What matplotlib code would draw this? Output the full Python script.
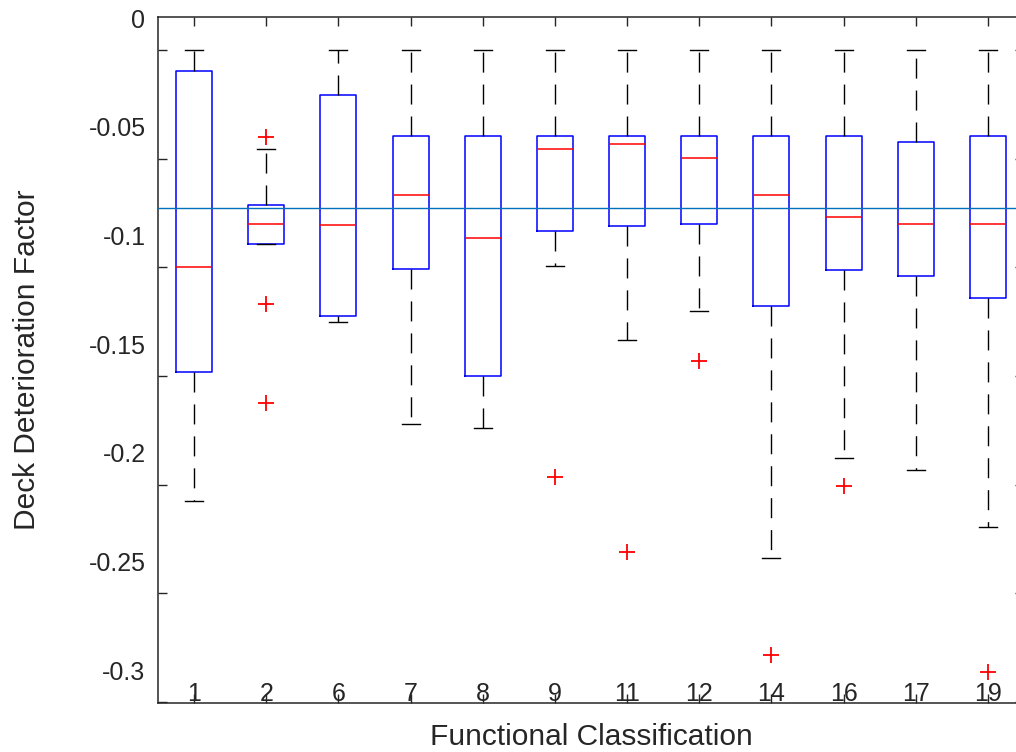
import matplotlib
matplotlib.use("Agg")
import matplotlib.pyplot as plt
import matplotlib.transforms as mtransforms
import numpy as np

# Functional classification groups and their deck deterioration factor summaries
classes = ['1', '2', '6', '7', '8', '9', '11', '12', '14', '16', '17', '19']
upper_whisker = [0.0, -0.0454, 0.0, 0.0, 0.0, 0.0, 0.0, 0.0, 0.0, 0.0, 0.0, 0.0]
q3 = [-0.0097, -0.0714, -0.0207, -0.0397, -0.0397, -0.0397, -0.0397, -0.0397,
      -0.0397, -0.0397, -0.0425, -0.0397]
median = [-0.1000, -0.0800, -0.0805, -0.0666, -0.0866, -0.0454, -0.0432, -0.0498,
          -0.0666, -0.0768, -0.0800, -0.0800]
q1 = [-0.1481, -0.0891, -0.1225, -0.1009, -0.1500, -0.0831, -0.0810, -0.0799,
      -0.1176, -0.1012, -0.1041, -0.1139]
lower_whisker = [-0.2075, -0.0891, -0.1250, -0.1722, -0.1739, -0.0992, -0.1333, -0.1201,
                 -0.2335, -0.1877, -0.1932, -0.2196]
outliers = [[], [-0.0399, -0.1168, -0.1625], [], [], [], [-0.1963], [-0.2310],
            [-0.1431], [-0.2783], [-0.2004], [], [-0.2862]]
reference_level = -0.0725

y_ticks = [0, -0.05, -0.1, -0.15, -0.2, -0.25, -0.3]
y_tick_labels = ['0', '-0.05', '-0.1', '-0.15', '-0.2', '-0.25', '-0.3']

axis_color = '#262626'
plt.rcParams['font.family'] = ['Liberation Sans', 'DejaVu Sans']

W, H, DPI = 1016, 752, 100
fig = plt.figure(figsize=(W / DPI, H / DPI), dpi=DPI)
left, right, top, bottom = 158, 1024, 17, 703
ax = fig.add_axes([left / W, (H - bottom) / H, (right - left) / W, (bottom - top) / H])

stats = []
for i, name in enumerate(classes):
    stats.append(dict(med=median[i], q1=q1[i], q3=q3[i],
                      whislo=lower_whisker[i], whishi=upper_whisker[i],
                      fliers=np.array(outliers[i]), label=name))

positions = np.arange(1, len(classes) + 1)
ax.bxp(stats, positions=positions, widths=0.5, capwidths=0.25, manage_ticks=False,
       boxprops=dict(color='#0000FF', linewidth=1.1),
       medianprops=dict(color='#FF0000', linewidth=1.1),
       whiskerprops=dict(color='black', linewidth=1.0, linestyle=(0, (14.4, 8.6))),
       capprops=dict(color='black', linewidth=1.0),
       flierprops=dict(marker='+', markeredgecolor='#FF0000', markersize=11,
                       markeredgewidth=1.3, linestyle='none'))

ax.axhline(reference_level, color='#0072BD', linewidth=1.0, zorder=3)

ax.set_xlim(0.5, 12.5)
ax.set_ylim(-0.3004, 0.0152)

ax.set_xticks(positions)
ax.set_xticklabels(classes)
ax.set_yticks(y_ticks)
ax.set_yticklabels(y_tick_labels)

ax.tick_params(axis='both', direction='in', length=6.5, width=1.0, color=axis_color,
               labelcolor=axis_color, labelsize=18, top=True, right=True)
ax.tick_params(axis='y', pad=9)
for sp in ax.spines.values():
    sp.set_color(axis_color)
    sp.set_linewidth(1.1)

# tick labels sit raised relative to their tick marks
y_shift = mtransforms.ScaledTranslation(0, 0.32, fig.dpi_scale_trans)
x_shift = mtransforms.ScaledTranslation(0, 0.26, fig.dpi_scale_trans)
for lbl in ax.get_yticklabels():
    lbl.set_transform(lbl.get_transform() + y_shift)
for lbl in ax.get_xticklabels():
    lbl.set_transform(lbl.get_transform() + x_shift)

ax.set_xlabel('Functional Classification', fontsize=21.5, color=axis_color)
ax.set_ylabel('Deck Deterioration Factor', fontsize=21.5, color=axis_color)
ax.xaxis.set_label_coords(0.5, -0.029)
ax.yaxis.set_label_coords(-0.135, 0.5)

fig.savefig('out.png', dpi=DPI)
